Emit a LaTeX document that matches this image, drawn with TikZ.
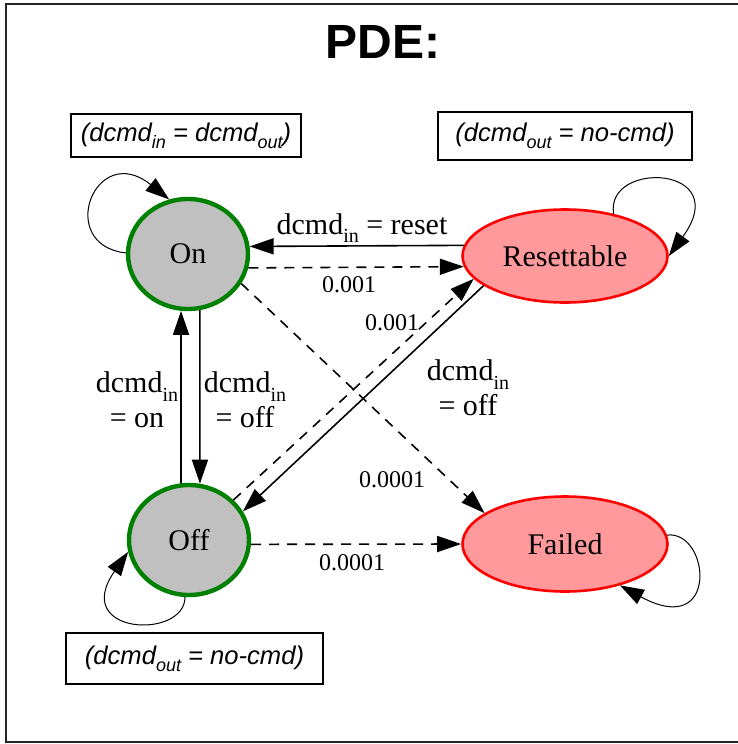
\documentclass[tikz,border=0pt]{standalone}
\usepackage{fontspec}
\setmainfont{Liberation Serif}
\newfontfamily\arialf{Liberation Sans}
\usetikzlibrary{shapes.geometric,arrows.meta}
\definecolor{stategray}{HTML}{C0C0C0}
\definecolor{statepink}{HTML}{FF999C}
\definecolor{stategreen}{HTML}{008000}
\newcommand\lowin[1]{\raisebox{-0.6ex}{\fontsize{10}{10}\selectfont #1}}
\newcommand\boxsub[1]{\raisebox{-0.5ex}{\fontsize{9}{9}\selectfont #1}}
\begin{document}
\begin{tikzpicture}[x=0.5pt,y=-0.5pt,
  okstate/.style={ellipse, draw=stategreen, line width=2.2pt, fill=stategray, minimum width=60pt, minimum height=55pt, inner sep=0pt, font=\fontsize{15}{18}\selectfont},
  badstate/.style={ellipse, draw=red, line width=1.3pt, fill=statepink, minimum width=102.5pt, minimum height=46.5pt, inner sep=0pt, font=\fontsize{15}{18}\selectfont},
  cond/.style={draw, line width=0.75pt, inner sep=0pt, font=\arialf\itshape\fontsize{12.8}{15}\selectfont},
  trans/.style={line width=0.8pt, -{Triangle[length=12pt,width=8pt]}},
  prob/.style={trans, dash pattern=on 5pt off 4pt},
  selfloop/.style={line width=0.5pt, -{Triangle[length=12pt,width=8pt]}},
  elabel/.style={font=\fontsize{15}{17.5}\selectfont, align=center, inner sep=0pt},
  plabel/.style={font=\fontsize{12}{14}\selectfont, inner sep=0pt}]
\useasboundingbox (0,0) rectangle (738,744);
\draw[line width=1pt, draw=black!85] (6,4) rectangle (760,742);

\node[font=\arialf\bfseries\fontsize{24}{28}\selectfont] (title) at (383,42) {PDE:};

\node[cond, minimum width=115pt, minimum height=21.5pt] (c1) at (186,135.5) {(dcmd\boxsub{in} = dcmd\boxsub{out})};
\node[cond, minimum width=127pt, minimum height=24pt] (c2) at (565,136) {(dcmd\boxsub{out} = no-cmd)};
\node[cond, minimum width=128.5pt, minimum height=25.5pt] (c3) at (194.5,658.5) {(dcmd\boxsub{out} = no-cmd)};

\node[okstate] (on) at (188,254) {On};
\node[okstate] (off) at (189,540) {Off};
\node[badstate] (res) at (565,256) {Resettable};
\node[badstate, minimum height=47.5pt] (fail) at (565,544) {Failed};

% transitions
\draw[trans] (res.174.3) -- (on.7.7);
\draw[prob] (on.-13.5) -- (res.186.9);
\draw[prob] (off.42.4) -- (res.194.9);
\draw[trans] (res.200.3) -- (off.28);
\draw[prob] (on.-29.4) -- (fail.159.3);
\draw[trans] (off.98.4) -- (on.-97.3);
\draw[trans] (on.-78.5) -- (off.79.5);
\draw[prob] (off.-4.8) -- (fail.180.6);

% self loops
\draw[selfloop] (on.179) .. controls (55,245) and (95,140) .. (on.109);
\draw[selfloop] (res.41.3) .. controls (605,160) and (735,165) .. (res.0);
\draw[selfloop] (off.-94) .. controls (185,640) and (70,635) .. (off.191.6);
\draw[selfloop] (fail.5.1) .. controls (710,530) and (720,640) .. (fail.-37.5);

% labels
\node[elabel] (l1) at (362,228) {dcmd\lowin{in} = reset};
\node[plabel] (l2) at (349,285) {0.001};
\node[plabel] (l3) at (392,323) {0.001};
\node[elabel] (l4) at (468,388) {dcmd\lowin{in}\\= off};
\node[plabel] (l5) at (392,480) {0.0001};
\node[elabel] (l6) at (137,400) {dcmd\lowin{in}\\= on};
\node[elabel] (l7) at (245,400) {dcmd\lowin{in}\\= off};
\node[plabel] (l8) at (352,563) {0.0001};
\end{tikzpicture}
\end{document}
